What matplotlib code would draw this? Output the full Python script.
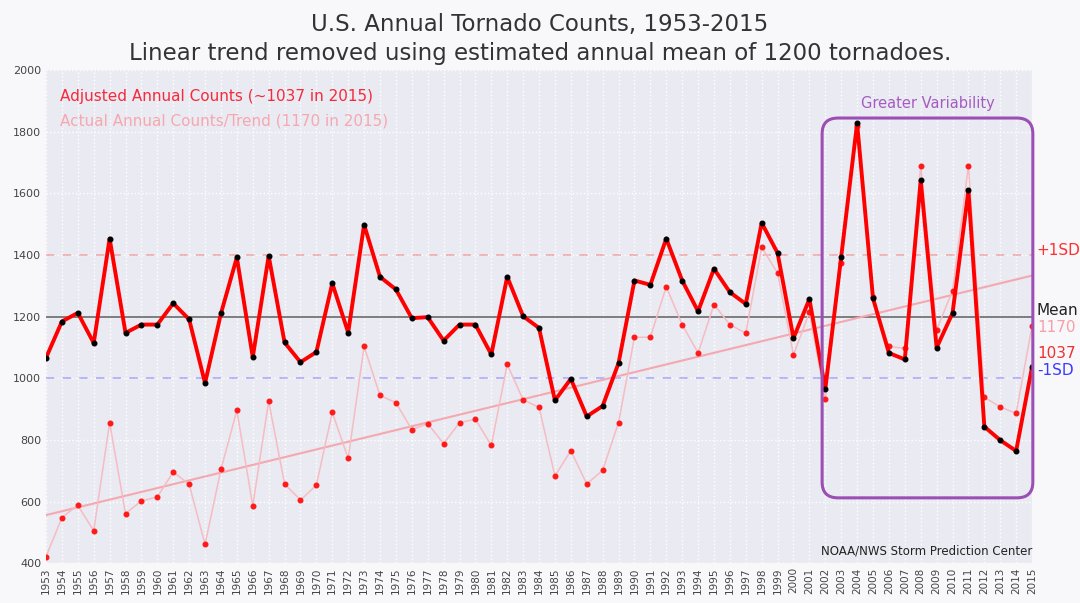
import matplotlib
matplotlib.use("Agg")
import matplotlib.pyplot as plt
from matplotlib.patches import FancyBboxPatch

# data
years = list(range(1953, 2016))
adjusted = [1066, 1184, 1212, 1114, 1453, 1147, 1174, 1174, 1243, 1191,
            984, 1210, 1392, 1068, 1397, 1116, 1052, 1085, 1308, 1148,
            1498, 1329, 1288, 1195, 1198, 1122, 1174, 1174, 1077, 1329,
            1201, 1163, 928, 998, 876, 910, 1049, 1317, 1303, 1453,
            1317, 1217, 1355, 1279, 1241, 1504, 1406, 1130, 1257, 965,
            1394, 1827, 1259, 1082, 1061, 1642, 1099, 1211, 1609, 843,
            799, 764, 1037]
actual = [421, 548, 588, 505, 856, 561, 602, 615, 696, 656,
          461, 704, 896, 586, 926, 657, 605, 653, 889, 740,
          1103, 944, 921, 833, 853, 788, 856, 867, 782, 1045,
          930, 906, 683, 765, 657, 701, 856, 1133, 1133, 1297,
          1174, 1082, 1239, 1174, 1146, 1425, 1341, 1076, 1214, 932,
          1375, 1817, 1264, 1103, 1097, 1690, 1157, 1284, 1690, 938,
          907, 886, 1170]
trend_years = [1953, 2015]
trend_vals = [556, 1333]
mean_val = 1200
sd_hi = 1400
sd_lo = 1000

fig = plt.figure(figsize=(10.8, 6.03), dpi=100, facecolor="#f8f8fa")
ax = fig.add_axes([0.0426, 0.066, 0.913, 0.818])
ax.set_facecolor("#eaeaf2")
for s in ax.spines.values():
    s.set_visible(False)

ax.set_xlim(1953, 2015)
ax.set_ylim(400, 2000)
ax.set_xticks(years)
ax.set_xticklabels([str(y) for y in years], rotation=90, fontsize=7.5, color="#444")
ax.set_yticks(range(400, 2001, 200))
ax.tick_params(axis="y", labelsize=8, colors="#444", length=0)
ax.tick_params(axis="x", length=0, pad=3)
ax.grid(True, color="white", linestyle=":", linewidth=1)
ax.set_axisbelow(True)

# reference lines
ax.axhline(mean_val, color="#6a6a6a", lw=1.2, zorder=1)
ax.axhline(sd_hi, color="#f08080", lw=1.2, ls=(0, (5, 5)), alpha=0.6, zorder=1)
ax.axhline(sd_lo, color="#8080ff", lw=1.2, ls=(0, (5, 5)), alpha=0.6, zorder=1)

# trend and actual counts
ax.plot(trend_years, trend_vals, color="#f4a8b0", lw=1.5, zorder=2)
ax.plot(years, actual, color="#f5bcc2", lw=1.1, zorder=2)
ax.plot(years, actual, ls="none", marker="o", ms=3.3, color="#ff1a1a", zorder=3)

# adjusted counts
ax.plot(years, adjusted, color="#ff0000", lw=2.8, zorder=4,
        marker="o", ms=3.3, mfc="black", mec="black")

# highlight box
box = FancyBboxPatch((2001.8, 612), 13.25, 1232,
                     boxstyle="round,pad=0,rounding_size=1", mutation_aspect=51,
                     fill=False, ec="#9b4fb5", lw=2.2, zorder=5, clip_on=False)
ax.add_patch(box)
ax.text(2008.45, 1890, "Greater Variability", color="#a55cc0", fontsize=10.5,
        ha="center", va="center")

# legend-like labels
ax.text(1953.9, 1915, "Adjusted Annual Counts (~1037 in 2015)", color="#f52a3a",
        fontsize=11, va="center")
ax.text(1953.9, 1834, "Actual Annual Counts/Trend (1170 in 2015)", color="#f5a8b0",
        fontsize=11, va="center")

# right side labels
rx = 2015.3
ax.text(rx, 1413, "+1SD", color="#ff3030", fontsize=11, va="center", clip_on=False)
ax.text(rx, 1219, "Mean", color="#222", fontsize=11, va="center", clip_on=False)
ax.text(rx, 1163, "1170", color="#f5a0a8", fontsize=11, va="center", clip_on=False)
ax.text(rx, 1080, "1037", color="#f03030", fontsize=11, va="center", clip_on=False)
ax.text(rx, 1026, "-1SD", color="#3a3aff", fontsize=11, va="center", clip_on=False)

ax.text(2015, 420, "NOAA/NWS Storm Prediction Center", color="#222", fontsize=8.5,
        ha="right", va="bottom")

fig.suptitle("U.S. Annual Tornado Counts, 1953-2015\n"
             "Linear trend removed using estimated annual mean of 1200 tornadoes.",
             fontsize=16.5, color="#333", y=0.978, linespacing=1.3)

fig.savefig("out.png", dpi=100, facecolor=fig.get_facecolor())
